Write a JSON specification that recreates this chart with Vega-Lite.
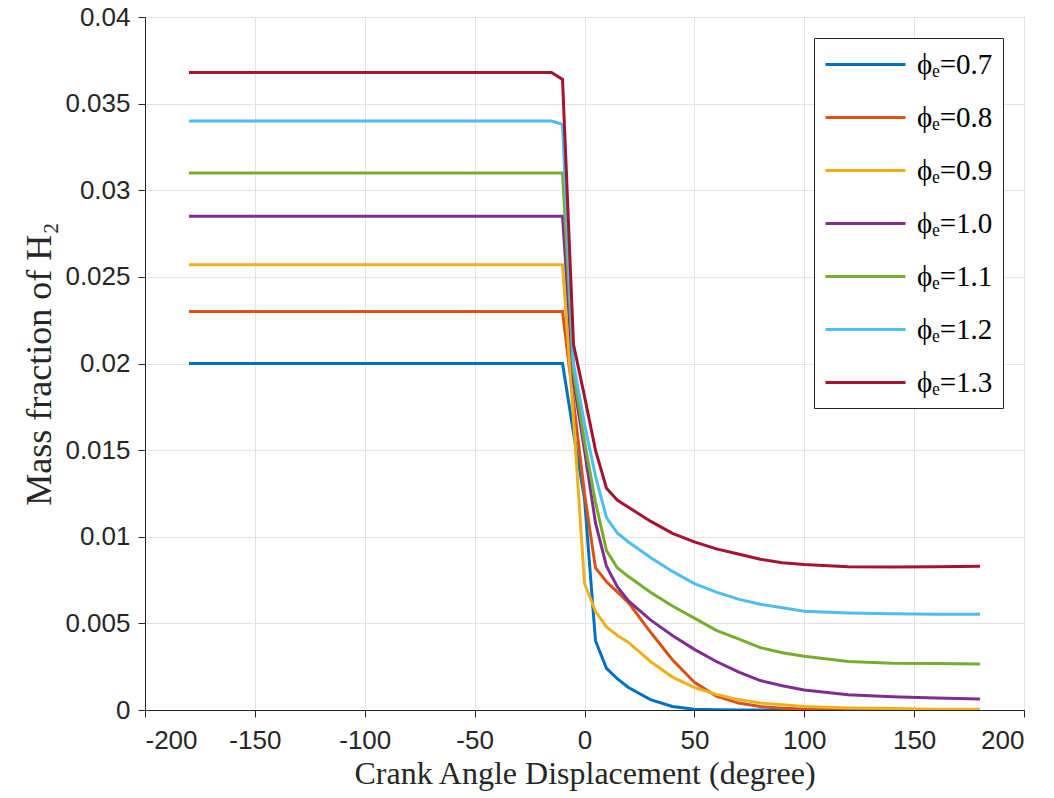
{
  "$schema": "https://vega.github.io/schema/vega-lite/v6.json",
  "width": 879,
  "height": 693,
  "autosize": {"type": "none"},
  "padding": {"left": 145, "top": 17, "right": 30, "bottom": 88},
  "background": "white",
  "data": {"values": [
    {"s":"ϕₑ=0.7","x":-180,"y":0.02},{"s":"ϕₑ=0.7","x":-15,"y":0.02},{"s":"ϕₑ=0.7","x":-10,"y":0.02},{"s":"ϕₑ=0.7","x":-5,"y":0.016},{"s":"ϕₑ=0.7","x":0,"y":0.0122},{"s":"ϕₑ=0.7","x":5,"y":0.004},{"s":"ϕₑ=0.7","x":10,"y":0.0024},{"s":"ϕₑ=0.7","x":15,"y":0.0018},{"s":"ϕₑ=0.7","x":20,"y":0.0013},{"s":"ϕₑ=0.7","x":30,"y":0.0006},{"s":"ϕₑ=0.7","x":40,"y":0.0002},{"s":"ϕₑ=0.7","x":50,"y":0.00004},{"s":"ϕₑ=0.7","x":60,"y":0.00001},{"s":"ϕₑ=0.7","x":70,"y":0},{"s":"ϕₑ=0.7","x":80,"y":0},{"s":"ϕₑ=0.7","x":90,"y":0},{"s":"ϕₑ=0.7","x":100,"y":0},{"s":"ϕₑ=0.7","x":120,"y":0},{"s":"ϕₑ=0.7","x":140,"y":0},{"s":"ϕₑ=0.7","x":160,"y":0},{"s":"ϕₑ=0.7","x":180,"y":0},
    {"s":"ϕₑ=0.8","x":-180,"y":0.023},{"s":"ϕₑ=0.8","x":-15,"y":0.023},{"s":"ϕₑ=0.8","x":-10,"y":0.023},{"s":"ϕₑ=0.8","x":-5,"y":0.0178},{"s":"ϕₑ=0.8","x":0,"y":0.0125},{"s":"ϕₑ=0.8","x":5,"y":0.0082},{"s":"ϕₑ=0.8","x":10,"y":0.0074},{"s":"ϕₑ=0.8","x":15,"y":0.0068},{"s":"ϕₑ=0.8","x":20,"y":0.0062},{"s":"ϕₑ=0.8","x":30,"y":0.0045},{"s":"ϕₑ=0.8","x":40,"y":0.0029},{"s":"ϕₑ=0.8","x":50,"y":0.0016},{"s":"ϕₑ=0.8","x":60,"y":0.0008},{"s":"ϕₑ=0.8","x":70,"y":0.0004},{"s":"ϕₑ=0.8","x":80,"y":0.0002},{"s":"ϕₑ=0.8","x":90,"y":0.0001},{"s":"ϕₑ=0.8","x":100,"y":0.00006},{"s":"ϕₑ=0.8","x":120,"y":0.00003},{"s":"ϕₑ=0.8","x":140,"y":0.00002},{"s":"ϕₑ=0.8","x":160,"y":0.00001},{"s":"ϕₑ=0.8","x":180,"y":0},
    {"s":"ϕₑ=0.9","x":-180,"y":0.0257},{"s":"ϕₑ=0.9","x":-15,"y":0.0257},{"s":"ϕₑ=0.9","x":-10,"y":0.0257},{"s":"ϕₑ=0.9","x":-5,"y":0.0168},{"s":"ϕₑ=0.9","x":0,"y":0.0073},{"s":"ϕₑ=0.9","x":5,"y":0.0057},{"s":"ϕₑ=0.9","x":10,"y":0.0048},{"s":"ϕₑ=0.9","x":15,"y":0.0043},{"s":"ϕₑ=0.9","x":20,"y":0.0039},{"s":"ϕₑ=0.9","x":30,"y":0.0028},{"s":"ϕₑ=0.9","x":40,"y":0.0019},{"s":"ϕₑ=0.9","x":50,"y":0.0013},{"s":"ϕₑ=0.9","x":60,"y":0.0009},{"s":"ϕₑ=0.9","x":70,"y":0.0006},{"s":"ϕₑ=0.9","x":80,"y":0.0004},{"s":"ϕₑ=0.9","x":90,"y":0.0003},{"s":"ϕₑ=0.9","x":100,"y":0.0002},{"s":"ϕₑ=0.9","x":120,"y":0.00012},{"s":"ϕₑ=0.9","x":140,"y":0.00008},{"s":"ϕₑ=0.9","x":160,"y":0.00005},{"s":"ϕₑ=0.9","x":180,"y":0.00004},
    {"s":"ϕₑ=1.0","x":-180,"y":0.0285},{"s":"ϕₑ=1.0","x":-15,"y":0.0285},{"s":"ϕₑ=1.0","x":-10,"y":0.0285},{"s":"ϕₑ=1.0","x":-5,"y":0.019},{"s":"ϕₑ=1.0","x":0,"y":0.015},{"s":"ϕₑ=1.0","x":5,"y":0.0108},{"s":"ϕₑ=1.0","x":10,"y":0.0083},{"s":"ϕₑ=1.0","x":15,"y":0.0071},{"s":"ϕₑ=1.0","x":20,"y":0.0063},{"s":"ϕₑ=1.0","x":30,"y":0.0052},{"s":"ϕₑ=1.0","x":40,"y":0.0043},{"s":"ϕₑ=1.0","x":50,"y":0.0035},{"s":"ϕₑ=1.0","x":60,"y":0.0028},{"s":"ϕₑ=1.0","x":70,"y":0.0022},{"s":"ϕₑ=1.0","x":80,"y":0.0017},{"s":"ϕₑ=1.0","x":90,"y":0.0014},{"s":"ϕₑ=1.0","x":100,"y":0.00115},{"s":"ϕₑ=1.0","x":120,"y":0.00088},{"s":"ϕₑ=1.0","x":140,"y":0.00076},{"s":"ϕₑ=1.0","x":160,"y":0.00069},{"s":"ϕₑ=1.0","x":180,"y":0.00064},
    {"s":"ϕₑ=1.1","x":-180,"y":0.031},{"s":"ϕₑ=1.1","x":-15,"y":0.031},{"s":"ϕₑ=1.1","x":-10,"y":0.031},{"s":"ϕₑ=1.1","x":-5,"y":0.0195},{"s":"ϕₑ=1.1","x":0,"y":0.0155},{"s":"ϕₑ=1.1","x":5,"y":0.012},{"s":"ϕₑ=1.1","x":10,"y":0.0092},{"s":"ϕₑ=1.1","x":15,"y":0.0082},{"s":"ϕₑ=1.1","x":20,"y":0.0077},{"s":"ϕₑ=1.1","x":30,"y":0.0068},{"s":"ϕₑ=1.1","x":40,"y":0.006},{"s":"ϕₑ=1.1","x":50,"y":0.0053},{"s":"ϕₑ=1.1","x":60,"y":0.0046},{"s":"ϕₑ=1.1","x":70,"y":0.0041},{"s":"ϕₑ=1.1","x":80,"y":0.0036},{"s":"ϕₑ=1.1","x":90,"y":0.0033},{"s":"ϕₑ=1.1","x":100,"y":0.0031},{"s":"ϕₑ=1.1","x":120,"y":0.0028},{"s":"ϕₑ=1.1","x":140,"y":0.0027},{"s":"ϕₑ=1.1","x":160,"y":0.00268},{"s":"ϕₑ=1.1","x":180,"y":0.00266},
    {"s":"ϕₑ=1.2","x":-180,"y":0.034},{"s":"ϕₑ=1.2","x":-15,"y":0.034},{"s":"ϕₑ=1.2","x":-10,"y":0.0338},{"s":"ϕₑ=1.2","x":-5,"y":0.02},{"s":"ϕₑ=1.2","x":0,"y":0.0165},{"s":"ϕₑ=1.2","x":5,"y":0.0135},{"s":"ϕₑ=1.2","x":10,"y":0.0111},{"s":"ϕₑ=1.2","x":15,"y":0.0102},{"s":"ϕₑ=1.2","x":20,"y":0.0097},{"s":"ϕₑ=1.2","x":30,"y":0.0088},{"s":"ϕₑ=1.2","x":40,"y":0.008},{"s":"ϕₑ=1.2","x":50,"y":0.0073},{"s":"ϕₑ=1.2","x":60,"y":0.0068},{"s":"ϕₑ=1.2","x":70,"y":0.0064},{"s":"ϕₑ=1.2","x":80,"y":0.0061},{"s":"ϕₑ=1.2","x":90,"y":0.0059},{"s":"ϕₑ=1.2","x":100,"y":0.0057},{"s":"ϕₑ=1.2","x":120,"y":0.0056},{"s":"ϕₑ=1.2","x":140,"y":0.00555},{"s":"ϕₑ=1.2","x":160,"y":0.00553},{"s":"ϕₑ=1.2","x":180,"y":0.00553},
    {"s":"ϕₑ=1.3","x":-180,"y":0.0368},{"s":"ϕₑ=1.3","x":-15,"y":0.0368},{"s":"ϕₑ=1.3","x":-10,"y":0.0364},{"s":"ϕₑ=1.3","x":-5,"y":0.0211},{"s":"ϕₑ=1.3","x":0,"y":0.0181},{"s":"ϕₑ=1.3","x":5,"y":0.015},{"s":"ϕₑ=1.3","x":10,"y":0.0128},{"s":"ϕₑ=1.3","x":15,"y":0.0121},{"s":"ϕₑ=1.3","x":20,"y":0.0117},{"s":"ϕₑ=1.3","x":30,"y":0.0109},{"s":"ϕₑ=1.3","x":40,"y":0.0102},{"s":"ϕₑ=1.3","x":50,"y":0.0097},{"s":"ϕₑ=1.3","x":60,"y":0.0093},{"s":"ϕₑ=1.3","x":70,"y":0.009},{"s":"ϕₑ=1.3","x":80,"y":0.0087},{"s":"ϕₑ=1.3","x":90,"y":0.0085},{"s":"ϕₑ=1.3","x":100,"y":0.0084},{"s":"ϕₑ=1.3","x":120,"y":0.00827},{"s":"ϕₑ=1.3","x":140,"y":0.00825},{"s":"ϕₑ=1.3","x":160,"y":0.00827},{"s":"ϕₑ=1.3","x":180,"y":0.0083}
  ]},
  "mark": {"type": "line", "strokeWidth": 3, "clip": true},
  "encoding": {
    "x": {
      "field": "x", "type": "quantitative",
      "scale": {"domain": [-200, 200], "nice": false, "zero": false},
      "axis": {
        "values": [-200,-150,-100,-50,0,50,100,150,200],
        "labelExpr": "replace(datum.label, '−', '-')",
        "title": "Crank Angle Displacement (degree)",
        "titleFontSize": 32,
        "grid": true,
        "encode": {"ticks": {"update": {"y2": {"value": -7}}}}
      }
    },
    "y": {
      "field": "y", "type": "quantitative",
      "scale": {"domain": [0, 0.04], "nice": false},
      "axis": {
        "values": [0,0.005,0.01,0.015,0.02,0.025,0.03,0.035,0.04],
        "format": "~g",
        "title": "Mass fraction of H₂",
        "titleFontSize": 36,
        "grid": true,
        "encode": {"ticks": {"update": {"x2": {"value": 7}}}}
      }
    },
    "color": {
      "field": "s", "type": "nominal",
      "scale": {
        "domain": ["ϕₑ=0.7","ϕₑ=0.8","ϕₑ=0.9","ϕₑ=1.0","ϕₑ=1.1","ϕₑ=1.2","ϕₑ=1.3"],
        "range": ["#0072BD","#D95319","#EDB120","#7E2F8E","#77AC30","#4DBEEE","#A2142F"]
      },
      "legend": {
        "title": null,
        "orient": "top-right",
        "offset": 21,
        "padding": 10,
        "fillColor": "white",
        "strokeColor": "#262626",
        "symbolType": "M-1,0H4.3333",
        "symbolSize": 900,
        "symbolStrokeWidth": 3,
        "labelFont": "Liberation Serif",
        "labelFontSize": 29,
        "labelColor": "#000000",
        "labelOffset": 60,
        "rowPadding": 21
      }
    }
  },
  "config": {
    "view": {"stroke": "#262626", "strokeWidth": 1},
    "axis": {
      "labelFont": "Liberation Sans",
      "labelFontSize": 26,
      "labelColor": "#262626",
      "titleFont": "Liberation Serif",
      "titleFontWeight": "normal",
      "titleColor": "#262626",
      "domainColor": "#262626",
      "tickColor": "#262626",
      "tickSize": 7,
      "gridColor": "#e3e3e3",
      "gridWidth": 1
    },
    "axisX": {"labelPadding": 10, "titlePadding": 5},
    "axisY": {"labelPadding": 8, "titlePadding": 6}
  }
}
